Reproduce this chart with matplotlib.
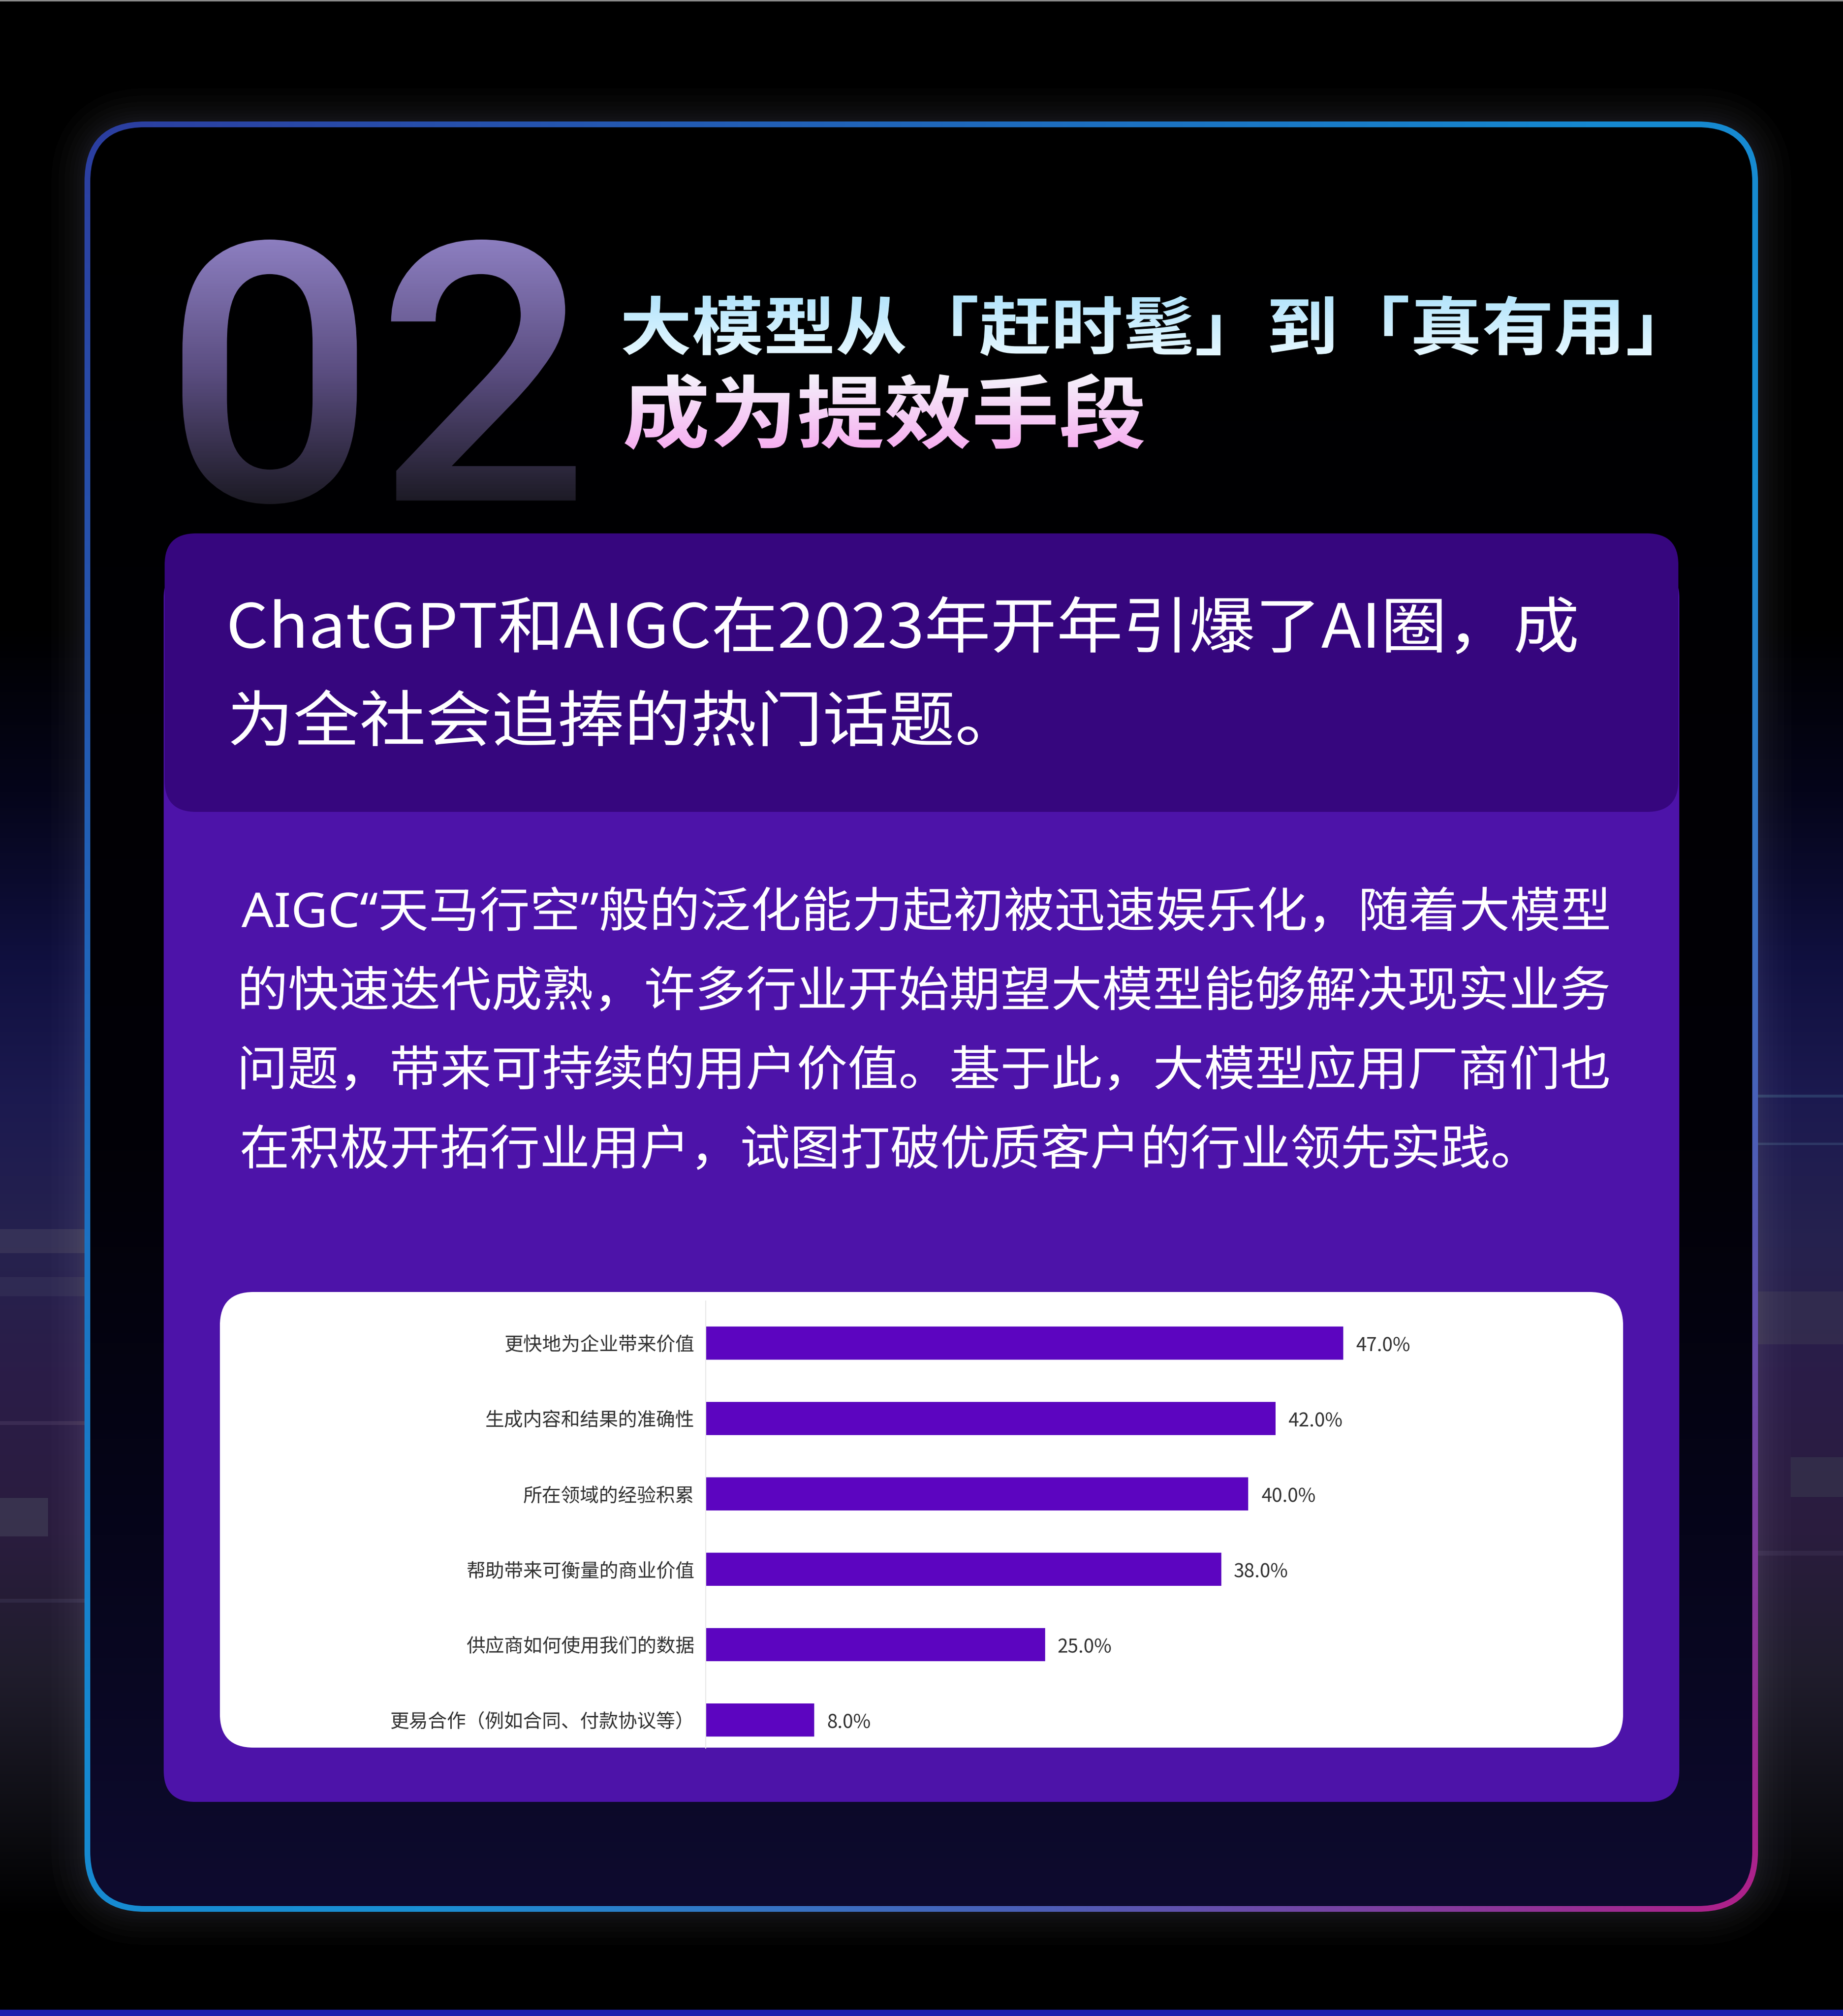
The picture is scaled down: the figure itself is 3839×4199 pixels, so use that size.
import numpy as np
import matplotlib
matplotlib.use('Agg')
import matplotlib.pyplot as plt
from matplotlib.patches import FancyBboxPatch, Rectangle
from matplotlib.patheffects import AbstractPathEffect
from matplotlib.transforms import Affine2D, Bbox
from matplotlib.textpath import TextPath
from matplotlib.font_manager import FontProperties
from matplotlib.colors import LinearSegmentedColormap, to_rgb

W, H = 3839, 4199

# -----------------------------
# data
# -----------------------------
section_no = '02'
title_lines = ['大模型从「赶时髦」到「真有用」', '成为提效手段']
lead_lines = ['ChatGPT和AIGC在2023年开年引爆了AI圈，成',
              '为全社会追捧的热门话题。']
body_lines = ['AIGC“天马行空”般的泛化能力起初被迅速娱乐化，随着大模型',
              '的快速迭代成熟，许多行业开始期望大模型能够解决现实业务',
              '问题，带来可持续的用户价值。基于此，大模型应用厂商们也',
              '在积极开拓行业用户，试图打破优质客户的行业领先实践。']
categories = ['更快地为企业带来价值', '生成内容和结果的准确性', '所在领域的经验积累',
              '帮助带来可衡量的商业价值', '供应商如何使用我们的数据', '更易合作（例如合同、付款协议等）']
shares = [47.0, 42.0, 40.0, 38.0, 25.0, 8.0]

CJK = ['Noto Sans CJK SC', 'DejaVu Sans']
plt.rcParams['font.family'] = CJK


# -----------------------------
# helpers
# -----------------------------
class Shaped(AbstractPathEffect):
    """horizontal squeeze/stretch around x0 and optional vertical gradient fill"""
    def __init__(self, x0, sx=1.0, stops=None, ytop=0, ybot=0):
        super().__init__()
        self.x0, self.sx = x0, sx
        self.cmap = LinearSegmentedColormap.from_list('g', stops) if stops else None
        self.ytop, self.ybot = ytop, ybot

    def draw_path(self, renderer, gc, tpath, affine, rgbFace=None):
        aff = affine + Affine2D().translate(-self.x0, 0).scale(self.sx, 1).translate(self.x0, 0)
        if self.cmap is None:
            renderer.draw_path(gc, tpath, aff, rgbFace)
            return
        top, bot = H - self.ytop, H - self.ybot
        for y in range(int(bot) - 60, int(top) + 60, 3):
            t = min(max((top - y - 1.5) / (top - bot), 0.0), 1.0)
            g = renderer.new_gc()
            g.copy_properties(gc)
            g.set_clip_rectangle(Bbox.from_extents(0, y, W + 10, y + 3))
            renderer.draw_path(g, tpath, aff, self.cmap(t))
            g.restore()


def shaped_text(ax, s, left, base, size_px, weight='regular', right=None, sx=1.0,
                stops=None, ytop=0, ybot=0, family=CJK, color='white', z=10):
    fp = FontProperties(family=family, weight=weight)
    bb = TextPath((0, 0), s, size=size_px, prop=fp).get_extents()
    if right is not None:
        sx = (right - left) / bb.width
    xa = left - sx * bb.x0
    t = ax.text(xa, base, s, fontproperties=fp, fontsize=size_px * 0.72, color=color,
                ha='left', va='baseline', zorder=z)
    t.set_path_effects([Shaped(xa, sx, stops, ytop, ybot)])
    return sx


def rrect(x0, y0, x1, y1, r, **kw):
    return FancyBboxPatch((x0, y0), x1 - x0, y1 - y0,
                          boxstyle=f'round,pad=0,rounding_size={r}', **kw)


def vprofile(ys, cols, y0, y1, n=400):
    yy = np.linspace(y0, y1, n)
    rgb = np.array([to_rgb(c) for c in cols])
    arr = np.stack([np.interp(yy, ys, rgb[:, k]) for k in range(3)], axis=-1)
    return arr[:, None, :]


fig = plt.figure(figsize=((W + 0.01) / 100, (H + 0.01) / 100), dpi=100)
fig.patch.set_facecolor('black')
ax = fig.add_axes([0, 0, 1, 1])
ax.set_facecolor('black')

# -----------------------------
# background (sides)
# -----------------------------
bg = vprofile([0, 1300, 1650, 2000, 2300, 2600, 2900, 3200, 3500, 3800, 4000, 4199],
              ['#000000', '#000000', '#05051a', '#10103f', '#1c1a50', '#26224e', '#2b1c47',
               '#2a1d3e', '#1f1c2b', '#0d0d12', '#000000', '#000000'], 0, H)
ax.imshow(bg, extent=[0, W, H, 0], aspect='auto', interpolation='bilinear', zorder=0)
streaks = [(0, 176, 2560, 2610, '#4a4562', 0.45), (0, 176, 2660, 2700, '#3d3a5e', 0.4),
           (0, 100, 3120, 3200, '#3c3852', 0.8), (0, 176, 2960, 2968, '#5a4870', 0.35),
           (0, 176, 3330, 3338, '#4a4466', 0.3), (3662, W, 2690, 2800, '#3a3552', 0.55),
           (3730, W, 3035, 3118, '#35314b', 0.8), (3662, W, 2280, 2286, '#3a5a80', 0.5),
           (3662, W, 2380, 2385, '#4a6a90', 0.35), (3662, W, 3230, 3240, '#4a4060', 0.3)]
for x0, x1, y0, y1, c, a in streaks:
    ax.add_patch(Rectangle((x0, y0), x1 - x0, y1 - y0, color=c, alpha=a, lw=0, zorder=0.5))
ax.add_patch(Rectangle((0, 4186), W, 14, color='#1b1fae', lw=0, zorder=0.6))
ax.add_patch(Rectangle((0, 0), W, 3, color='#8a8a8a', lw=0, zorder=0.6))

# -----------------------------
# glowing frame
# -----------------------------
for w in [150, 120, 95, 75, 58, 44, 32, 22]:
    ax.add_patch(rrect(182, 259, 3656, 3976, 120, fill=False, edgecolor='#c8c8d2',
                       lw=w * 0.72, alpha=0.016, zorder=1))

fx0, fy0, fx1, fy1 = 176, 253, 3662, 3982
u = np.linspace(0, 1, 200)
p = (u[None, :] + u[:, None]) / 2
ring_cmap = LinearSegmentedColormap.from_list(
    'ring', [(0, '#2c3ea0'), (0.45, '#1588d0'), (0.6, '#1a90d4'), (0.78, '#4a60b8'), (1.0, '#b0208a')])
ring = ax.imshow(ring_cmap(p), extent=[fx0, fx1, fy1, fy0], aspect='auto',
                 interpolation='bilinear', zorder=2)
ring.set_clip_path(rrect(fx0, fy0, fx1, fy1, 126, transform=ax.transData))

inner = vprofile([265, 2400, 3200, 3970], ['#000000', '#020107', '#06051a', '#0e0b2f'], 265, 3970)
im_in = ax.imshow(inner, extent=[188, 3650, 3970, 265], aspect='auto', interpolation='bilinear', zorder=3)
im_in.set_clip_path(rrect(188, 265, 3650, 3970, 114, transform=ax.transData))

# -----------------------------
# heading
# -----------------------------
NUM_FONT = ['Roboto', 'DejaVu Sans']
fp02 = FontProperties(family=NUM_FONT, weight='medium')
bb02 = TextPath((0, 0), section_no, size=100, prop=fp02).get_extents()
size02 = 100 * (1050 - 499) / bb02.height
shaped_text(ax, section_no, 380, 1050 + bb02.y0 * size02 / 100, size02, weight='medium',
            right=1199, family=NUM_FONT, stops=['#8c7ec0', '#5a4d80', '#1b1923'],
            ytop=499, ybot=1050, z=4)

shaped_text(ax, title_lines[0], 1297, 728, 132, weight='heavy', right=3440,
            stops=['#b4e4fb', '#e4f7ff'], ytop=618, ybot=737, z=4)
shaped_text(ax, title_lines[1], 1301, 920, 165, weight='heavy', right=2383,
            stops=['#f4f0fa', '#f6aff0'], ytop=784, ybot=933, z=4)

# -----------------------------
# purple panels
# -----------------------------
ax.add_patch(rrect(341, 1180, 3498, 3753, 65, color='#4d13a9', lw=0, zorder=5))
ax.add_patch(rrect(343, 1111, 3496, 1691, 65, color='#36067e', lw=0, zorder=5.1))

sx_lead = shaped_text(ax, lead_lines[0], 479, 1349, 127, weight='medium', right=3284, z=6)
shaped_text(ax, lead_lines[1], 481, 1544, 127, weight='medium', sx=sx_lead, z=6)

# body paragraph: lines 1-3 justified, last line ragged
body_base = [1931, 2096, 2261, 2426]
body_right = [3351, 3351, 3351, 3141]
for k, line in enumerate(body_lines):
    fam = ['Noto Sans', 'Noto Sans CJK SC'] if '“' in line else CJK
    shaped_text(ax, line, 503, body_base[k], 100, right=body_right[k], family=fam, z=6)

# white card
ax.add_patch(rrect(458, 2691, 3381, 3640, 70, color='white', lw=0, zorder=6))

ax.set_xlim(0, W)
ax.set_ylim(H, 0)
ax.axis('off')

# -----------------------------
# bar chart
# -----------------------------
PX = 28.26          # pixels per percent
cx0, cy0, cy1 = 1470, 2710, 3641
row0, pitch = 2798, 157
cax = fig.add_axes([cx0 / W, 1 - cy1 / H, 60 * PX / W, (cy1 - cy0) / H], zorder=2)
cax.set_facecolor('none')
ypos = np.arange(len(categories))
cax.barh(ypos, shares, height=69 / pitch, color='#5c05c0', zorder=2)
cax.set_xlim(0, 60)
cax.set_ylim((cy1 - row0) / pitch, (cy0 - row0) / pitch)
cax.set_yticks(ypos, labels=categories)
cax.set_xticks([])
cax.tick_params(axis='y', length=0, pad=17, labelsize=28.5, labelcolor='#333333')
for s in ['top', 'right', 'bottom']:
    cax.spines[s].set_visible(False)
cax.spines['left'].set_color('#e8e8e8')
cax.spines['left'].set_linewidth(1.5)
for i, v in enumerate(shares):
    cax.annotate(f'{v:.1f}%', (v, i), xytext=(19, -4), textcoords='offset points',
                 ha='left', va='center', fontsize=28.5, color='#333333')

fig.savefig('out.png', dpi=100, facecolor='black')
